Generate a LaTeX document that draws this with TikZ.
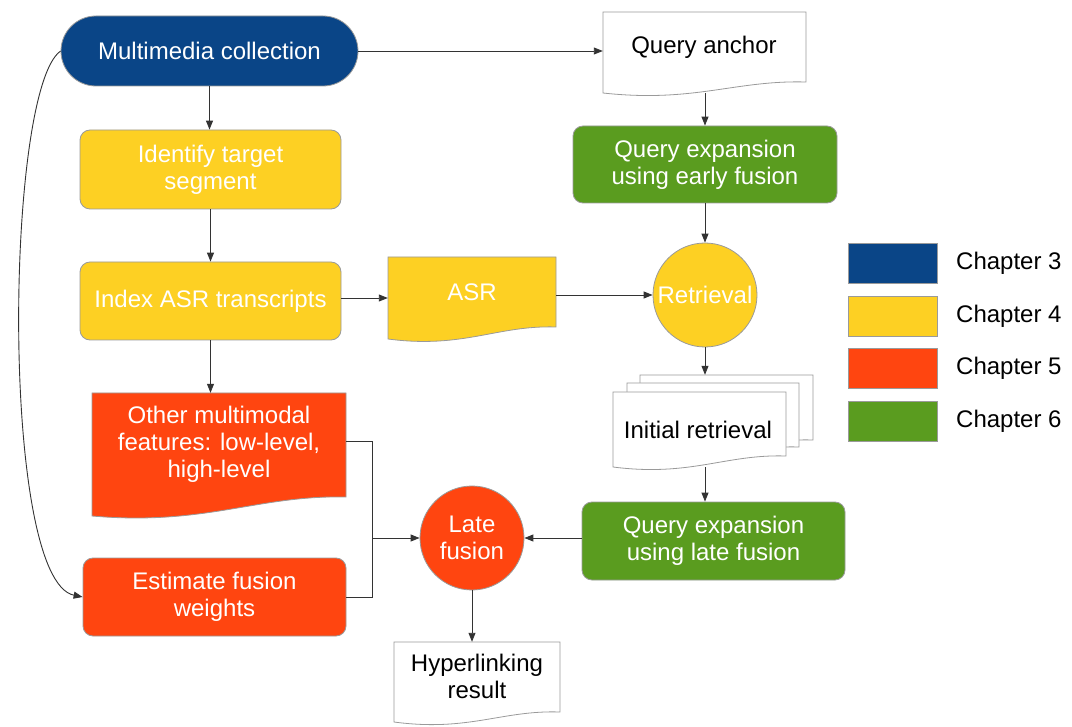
\documentclass[tikz,border=0pt]{standalone}
\usepackage{fontspec}
\setmainfont{Liberation Sans}
\usetikzlibrary{arrows.meta}
\definecolor{cblue}{HTML}{0A4587}
\definecolor{cyellow}{HTML}{FDD023}
\definecolor{corange}{HTML}{FF4510}
\definecolor{cgreen}{HTML}{5A9C1F}
\definecolor{cline}{HTML}{333333}
\definecolor{cborder}{HTML}{9A9A9A}
\newcommand{\docshape}[6]{% fill, L, T, R, BL, BR
  \path[doc, fill=#1] (#2,#3) -- (#4,#3) -- (#4,#6) .. controls ({#4-0.35*(#4-#2)},{#6-2}) and ({#2+0.45*(#4-#2)},{#5+10}) .. (#2,#5) -- cycle;}
\begin{document}
\begin{tikzpicture}[x=1pt,y=-1pt,
  every node/.style={font=\fontsize{24}{27}\selectfont},
  proc/.style={draw=cborder, line width=0.8pt, rounded corners=10pt, text=white, align=center, inner sep=0pt},
  circ/.style={circle, draw=cborder, line width=0.8pt, minimum size=104pt, inner sep=0pt, text=white, align=center},
  doc/.style={draw=cborder, line width=0.8pt},
  txt/.style={align=center, inner sep=0pt},
  area/.style={inner sep=0pt, draw=none},
  legbox/.style={draw=cborder, line width=0.8pt, minimum width=89pt, minimum height=40pt, inner sep=0pt},
  conn/.style={draw=cline, line width=0.9pt, -{Triangle[length=9pt,width=7pt]}},
  wire/.style={draw=cline, line width=0.9pt},
]
\useasboundingbox (0,0) rectangle (1072,727);

% process boxes
\node[proc, fill=cblue, rounded corners=35pt, minimum width=297pt, minimum height=70pt] (mm) at (209.5,51) {Multimedia collection};
\node[proc, fill=cyellow, minimum width=261pt, minimum height=79pt] (its) at (210.5,169.5) {Identify target\\segment};
\node[proc, fill=cyellow, minimum width=261pt, minimum height=78pt] (idx) at (210.5,301) {Index ASR transcripts};
\node[proc, fill=cgreen, minimum width=264pt, minimum height=77pt] (qee) at (705,164.5) {Query expansion\\using early fusion};
\node[proc, fill=cgreen, minimum width=263pt, minimum height=78pt] (qel) at (713.5,541) {Query expansion\\using late fusion};
\node[proc, fill=corange, minimum width=263pt, minimum height=78pt] (est) at (214.5,597) {Estimate fusion\\weights};
\node[circ, fill=cyellow] (ret) at (705,295) {Retrieval};
\node[circ, fill=corange] (lf) at (472,538) {Late\\fusion};

% document shapes
\docshape{white}{603}{12}{806}{93}{82}
\node[area, minimum width=203pt, minimum height=81pt] (qa) at (704.5,52.5) {};
\node[txt] (qat) at (704,47) {Query anchor};

\docshape{cyellow}{388}{257}{556}{339}{327}
\node[area, minimum width=168pt, minimum height=82pt] (asr) at (472,298) {};
\node[txt, text=white] (asrt) at (472,292) {ASR};

\docshape{corange}{92}{393}{346}{516}{497}
\node[area, minimum width=254pt, minimum height=123pt] (oth) at (219,454.5) {};
\node[txt, text=white] (otht) at (219,444.5) {Other multimodal\\features: low-level,\\high-level};

\docshape{white}{640}{375}{813}{451}{440}
\docshape{white}{627}{383}{799}{458}{447}
\docshape{white}{613}{392}{786}{467}{456}
\node[area, minimum width=200pt, minimum height=92pt] (ir) at (713,421) {};
\node[txt] (irt) at (698,430) {Initial retrieval};

\docshape{white}{394}{642}{560}{722}{712}
\node[area, minimum width=166pt, minimum height=80pt] (hyp) at (477,682) {};
\node[txt] (hypt) at (477,676) {Hyperlinking\\result};

% legend
\node[legbox, fill=cblue] (l3) at (892.5,263) {};
\node[legbox, fill=cyellow] (l4) at (892.5,316.5) {};
\node[legbox, fill=corange] (l5) at (892.5,368) {};
\node[legbox, fill=cgreen] (l6) at (892.5,421) {};
\node[anchor=west, inner sep=0pt] (t3) at (956,263) {Chapter 3};
\node[anchor=west, inner sep=0pt] (t4) at (956,316.5) {Chapter 4};
\node[anchor=west, inner sep=0pt] (t5) at (956,368) {Chapter 5};
\node[anchor=west, inner sep=0pt] (t6) at (956,421) {Chapter 6};

% connectors
\draw[conn] (mm.east) -- (mm.east -| qa.west);
\draw[conn] (mm.south) -- (mm.south |- its.north);
\draw[conn] (its.south) -- (idx.north);
\draw[conn] (idx.south) -- (idx.south |- oth.north);
\draw[conn] (asr.west -| idx.east) -- (asr.west);
\draw[conn] (ret.west -| asr.east) -- (ret.west);
\draw[conn] (qee.north |- qa.south) -- (qee.north);
\draw[conn] (qee.south) -- (qee.south |- ret.north);
\draw[conn] (ret.south) -- (ret.south |- ir.north);
\draw[conn] (ret.south |- ir.south) -- (ret.south |- qel.north);
\draw[conn] (lf.east -| qel.west) -- (lf.east);
\draw[conn] (lf.south) -- (lf.south |- hyp.north);
\coordinate (j) at (372,538);
\draw[wire] ([yshift=13.5pt]oth.east) -| (j);
\draw[wire] (est.east) -| (j);
\draw[conn] (j) -- (lf.west);
\draw[conn] (mm.west) .. controls (5,90) and (0,580) .. (est.west);
\end{tikzpicture}
\end{document}
